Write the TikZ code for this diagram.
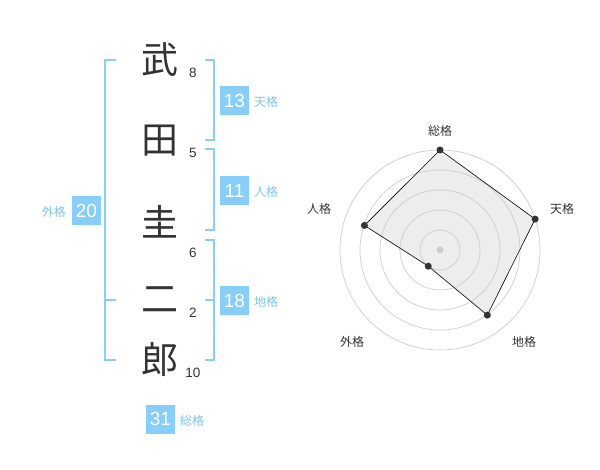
\documentclass[tikz,border=0pt]{standalone}
\usepackage{fontspec}
\setmainfont{Liberation Sans}
\newfontfamily\jp{Noto Sans CJK JP}
\begin{document}
\begin{tikzpicture}[x=1pt,y=-1pt,
  br/.style={draw=brblue,line width=2pt},
  numbox/.style={fill=brblue,text=white,minimum width=29pt,minimum height=29pt,inner sep=0pt,font=\fontsize{19}{19}\selectfont},
  boxlbl/.style={text=lblblue,font=\jp\fontsize{12}{12}\selectfont,inner sep=0pt,anchor=west},
  kanji/.style={text=kcol,font=\jp\fontsize{37}{37}\selectfont,inner sep=0pt},
  stroke/.style={text=kcol,font=\fontsize{13.5}{13.5}\selectfont,inner sep=0pt},
  ring/.style={draw=ringcol,line width=0.7pt},
  dot/.style={circle,fill=kcol,inner sep=0pt,minimum size=7pt},
  rlbl/.style={text=kcol,font=\jp\fontsize{12}{12}\selectfont,inner sep=0pt}]
\definecolor{brblue}{HTML}{87CEFA}
\definecolor{lblblue}{HTML}{7CC4F0}
\definecolor{kcol}{HTML}{333333}
\definecolor{ringcol}{HTML}{CCCCCC}
\useasboundingbox (0,0) rectangle (600,470);
% kanji
\node[kanji] (k1) at (160,60) {武};
\node[kanji] (k2) at (160,141) {田};
\node[kanji] (k3) at (160,222) {圭};
\node[kanji] (k4) at (160,300) {二};
\node[kanji] (k5) at (160,360) {郎};
\node[stroke] (s1) at (193,73) {8};
\node[stroke] (s2) at (193,153) {5};
\node[stroke] (s3) at (193,253) {6};
\node[stroke] (s4) at (193,313) {2};
\node[stroke] (s5) at (193,373) {10};
% left bracket
\draw[br] (116,60) -- (105,60) -- (105,360) -- (116,360);
\draw[br] (105,300) -- (116,300);
% right brackets
\draw[br] (205,60) -- (214,60) -- (214,140) -- (205,140);
\draw[br] (205,149) -- (214,149) -- (214,230) -- (205,230);
\draw[br] (205,240) -- (214,240) -- (214,360) -- (205,360);
\draw[br] (205,300) -- (214,300);
% boxes
\node[numbox] (b13) at (234.5,100.5) {13};
\node[boxlbl] (l13) at (254,102) {天格};
\node[numbox] (b11) at (234.5,190.5) {11};
\node[boxlbl] (l11) at (254,192) {人格};
\node[numbox] (b18) at (234.5,300.5) {18};
\node[boxlbl] (l18) at (254,302) {地格};
\node[numbox] (b20) at (86.5,210.5) {20};
\node[boxlbl,anchor=east] (l20) at (66,212) {外格};
\node[numbox] (b31) at (160.5,419) {31};
\node[boxlbl] (l31) at (180,421) {総格};
% radar
\coordinate (c) at (440,250);
\path (c) ++(90:-100) coordinate (p1);
\path (c) ++(-18:100) coordinate (p2);
\path (c) ++(54:80.5) coordinate (p3);
\path (c) ++(126:20) coordinate (p4);
\path (c) ++(198:79.5) coordinate (p5);
\fill[black!7] (p1) -- (p2) -- (p3) -- (p4) -- (p5) -- cycle;
\foreach \r in {20,40,60,80,100} \draw[ring] (c) circle (\r);
\fill[ringcol] (c) circle (3.5);
\draw[black,line width=0.6pt] (p1) -- (p2) -- (p3) -- (p4) -- (p5) -- cycle;
\foreach \p in {p1,p2,p3,p4,p5} \node[dot] at (\p) {};
\node[rlbl] (r1) at (440,131) {総格};
\node[rlbl] (r2) at (562,209) {天格};
\node[rlbl] (r3) at (524,342) {地格};
\node[rlbl] (r4) at (352,342) {外格};
\node[rlbl] (r5) at (319,209) {人格};
\end{tikzpicture}
\end{document}
